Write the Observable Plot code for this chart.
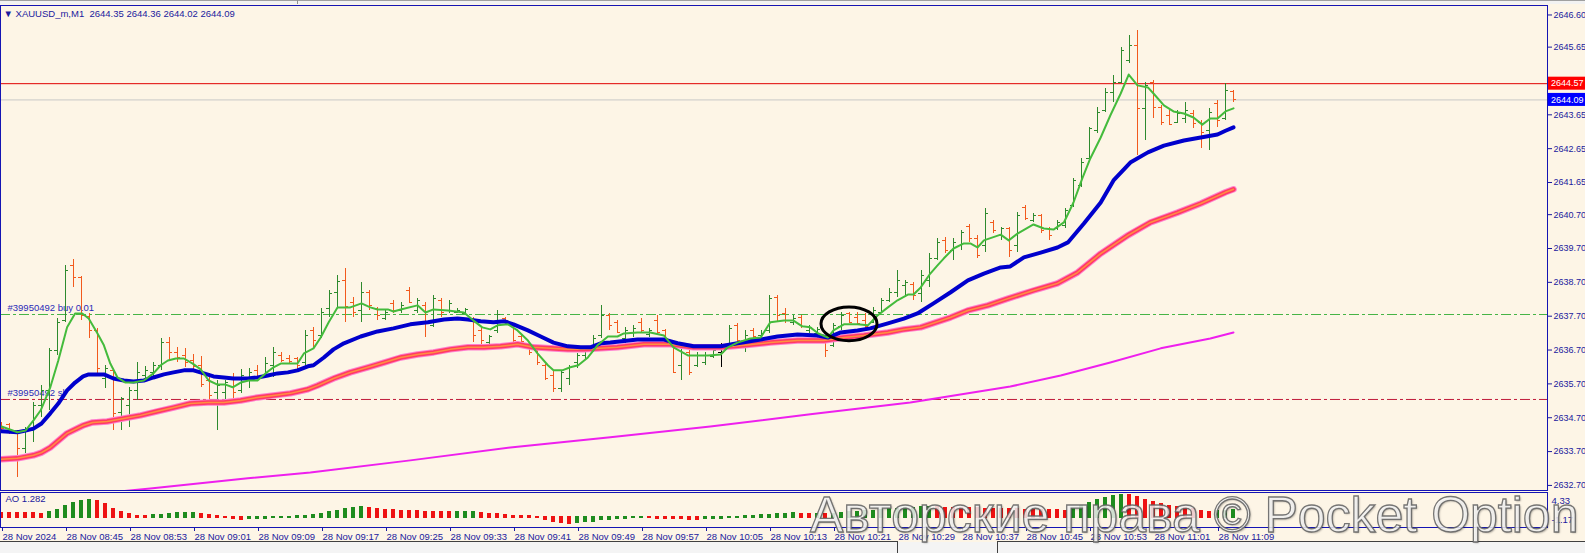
<!DOCTYPE html>
<html><head><meta charset="utf-8">
<script src="https://cdn.jsdelivr.net/npm/d3@7"></script>
<script src="https://cdn.jsdelivr.net/npm/@observablehq/plot@0.6"></script>
<style>
html,body{margin:0;padding:0;overflow:hidden;background:#fdf5e6;}
#wrap{position:relative;width:1585px;height:553px;overflow:hidden;background:#fdf5e6;font-family:"Liberation Sans",Arial,sans-serif;}
#wrap svg{position:absolute;left:0;}
.strip{position:absolute;left:0;}
#wm{position:absolute;left:810px;top:486px;font-family:"Liberation Sans",Arial,sans-serif;font-size:50px;white-space:nowrap;
color:rgba(255,255,255,0.8);-webkit-text-stroke:1.3px rgba(95,95,95,0.85);text-shadow:1px 1px 2px rgba(0,0,0,0.35);pointer-events:none;}
</style></head>
<body><div id="wrap">
<div class="strip" style="top:0;width:1585px;height:1px;background:#a0a0a0"></div>
<div class="strip" style="top:1px;width:1585px;height:3px;background:#f2f2f2"></div>
<div class="strip" style="top:0;left:297px;width:1px;height:4px;background:#909090"></div>
<div class="strip" style="top:542px;width:1585px;height:11px;background:#f4f4f4"></div>
<div class="strip" style="top:541px;width:897px;height:1px;background:#404040"></div>
<div class="strip" style="top:541px;left:897px;width:1px;height:12px;background:#404040"></div>
<div class="strip" style="top:541px;left:997px;width:1px;height:12px;background:#404040"></div>
<div class="strip" style="top:541px;left:997px;width:588px;height:1px;background:#404040"></div>
<div id="wm">Авторские права © Pocket Option</div>
</div>
<script>
// ---------- DATA ----------
const symbolTitle = "\u25BC XAUUSD_m,M1\u00a0\u00a02644.35 2644.36 2644.02 2644.09";
const opens = [2634.47,2634.50,2634.30,2633.80,2634.33,2635.06,2635.51,2636.69,2637.58,2639.20,
2638.85,2637.70,2637.28,2635.87,2636.10,2634.86,2635.06,2635.51,2635.95,2636.04,
2636.25,2636.93,2636.63,2636.54,2636.40,2636.25,2635.81,2635.45,2635.45,2635.87,
2635.51,2635.81,2636.10,2635.95,2636.25,2636.54,2636.45,2636.45,2636.34,2637.28,
2637.14,2637.93,2638.40,2638.76,2638.11,2637.87,2638.40,2637.93,2637.64,2638.08,
2637.87,2638.46,2637.87,2638.02,2637.43,2638.17,2637.87,2637.81,2637.78,2637.64,
2637.28,2636.93,2637.28,2637.64,2637.43,2637.11,2636.90,2636.69,2636.25,2635.95,
2635.57,2635.87,2636.34,2636.54,2636.78,2637.14,2637.72,2637.52,2637.05,2637.22,
2637.52,2637.17,2637.58,2637.28,2636.84,2636.25,2636.63,2636.25,2636.34,2636.51,
2636.63,2636.84,2637.43,2636.84,2637.28,2637.14,2637.28,2638.26,2637.78,2637.52,
2637.67,2637.28,2637.19,2637.05,2636.84,2637.40,2637.78,2637.67,2637.58,2637.52,
2637.81,2638.17,2638.40,2638.61,2638.64,2638.37,2638.76,2639.41,2639.94,2639.65,
2639.79,2640.35,2640.00,2639.79,2640.47,2640.09,2640.29,2639.79,2640.91,2640.53,
2640.68,2640.29,2640.29,2640.38,2640.97,2641.56,2642.36,2643.19,2643.78,2644.31,
2644.61,2645.26,2645.70,2643.84,2644.61,2643.87,2643.63,2643.43,2643.54,2643.69,
2643.43,2643.19,2643.99,2643.54,2644.35];
const highs = [2634.56,2634.53,2634.33,2634.42,2635.15,2635.66,2636.75,2637.64,2639.20,2639.38,
2638.88,2637.78,2637.34,2636.25,2636.12,2635.30,2635.60,2636.34,2636.22,2636.34,
2637.05,2637.08,2636.78,2636.75,2636.57,2636.51,2636.01,2635.81,2635.81,2636.01,
2636.13,2636.16,2636.25,2636.48,2636.78,2636.63,2636.55,2636.48,2637.28,2637.37,
2637.93,2638.46,2638.91,2639.11,2638.26,2638.70,2638.46,2637.96,2637.87,2638.17,
2638.11,2638.55,2638.23,2638.11,2638.32,2638.23,2638.17,2637.93,2637.93,2637.66,
2637.34,2637.14,2637.87,2637.67,2637.49,2637.14,2636.92,2636.78,2636.27,2636.10,
2636.10,2636.25,2636.60,2636.75,2637.14,2638.02,2637.78,2637.58,2637.37,2637.43,
2637.64,2637.34,2637.72,2637.30,2636.90,2636.78,2636.69,2636.63,2636.63,2636.78,
2636.90,2637.43,2637.49,2637.28,2637.34,2637.28,2638.32,2638.32,2637.93,2637.72,
2637.72,2637.43,2637.37,2637.08,2637.49,2637.81,2637.81,2637.81,2637.78,2637.96,
2638.23,2638.52,2639.05,2638.76,2638.70,2639.05,2639.56,2639.99,2640.03,2639.99,
2640.24,2640.41,2640.09,2640.89,2640.53,2640.32,2640.31,2640.77,2640.97,2640.74,
2640.70,2640.32,2640.53,2640.89,2641.77,2642.36,2643.28,2643.87,2644.43,2644.81,
2645.64,2645.99,2646.14,2644.61,2644.67,2643.93,2643.78,2643.78,2644.02,2643.78,
2643.49,2643.84,2644.08,2644.58,2644.36];
const lows = [2634.27,2634.21,2632.94,2633.65,2633.97,2634.71,2634.92,2636.54,2637.52,2638.55,
2637.58,2637.05,2636.01,2635.57,2634.33,2634.33,2634.42,2635.21,2635.81,2635.87,
2636.10,2636.40,2636.34,2636.19,2636.10,2635.60,2635.21,2634.33,2635.21,2635.21,
2635.42,2635.57,2635.87,2635.90,2635.90,2636.34,2636.30,2636.10,2636.16,2636.78,
2637.05,2637.67,2637.93,2637.52,2637.67,2637.52,2637.87,2637.58,2637.58,2637.78,
2637.78,2638.08,2637.78,2637.08,2637.37,2637.67,2637.78,2637.78,2637.72,2636.93,
2636.84,2636.84,2637.19,2637.52,2636.93,2636.93,2636.54,2636.25,2635.81,2635.45,
2635.45,2635.66,2636.16,2636.40,2636.69,2637.05,2637.28,2637.19,2636.90,2637.08,
2637.19,2637.08,2637.19,2636.99,2636.01,2635.81,2635.95,2636.19,2636.25,2636.46,
2636.19,2636.78,2636.93,2636.63,2637.05,2637.05,2637.19,2637.52,2637.49,2637.43,
2637.34,2637.19,2637.05,2636.48,2636.78,2637.28,2637.49,2637.43,2637.34,2637.49,
2637.78,2638.11,2638.26,2638.26,2638.17,2638.11,2638.55,2639.35,2639.56,2639.35,
2639.65,2639.88,2639.41,2639.59,2640.15,2639.94,2639.44,2639.59,2640.53,2640.47,
2640.15,2639.94,2640.24,2640.29,2640.91,2641.50,2642.30,2643.10,2643.72,2644.02,
2644.58,2645.17,2642.45,2642.89,2643.54,2643.34,2643.34,2643.40,2643.40,2643.25,
2642.66,2642.60,2643.28,2643.49,2644.02];
const closes = [2634.38,2634.30,2633.80,2634.33,2635.06,2635.51,2636.69,2637.52,2639.05,2638.85,
2637.72,2637.28,2636.16,2636.16,2634.83,2635.27,2635.51,2636.04,2636.10,2636.25,
2636.93,2636.63,2636.48,2636.34,2636.22,2635.69,2635.36,2635.66,2635.75,2635.45,
2635.95,2636.04,2635.92,2636.31,2636.63,2636.40,2636.36,2636.25,2637.14,2636.99,
2637.81,2638.37,2638.73,2637.99,2637.81,2638.40,2638.02,2637.72,2637.81,2637.87,
2638.02,2638.11,2638.17,2637.52,2638.23,2637.81,2638.08,2637.87,2637.90,2637.14,
2636.99,2637.11,2637.75,2637.58,2636.99,2636.96,2636.63,2636.34,2635.87,2635.57,
2636.04,2636.19,2636.54,2636.69,2637.05,2637.72,2637.43,2637.22,2637.28,2637.34,
2637.28,2637.28,2637.22,2637.05,2636.04,2636.63,2636.04,2636.54,2636.54,2636.69,
2636.63,2637.34,2636.99,2637.14,2637.11,2637.19,2638.23,2637.72,2637.58,2637.64,
2637.40,2637.37,2637.31,2636.69,2637.43,2637.72,2637.52,2637.49,2637.40,2637.87,
2638.17,2638.40,2638.76,2638.70,2638.32,2638.91,2639.41,2639.88,2639.65,2639.88,
2640.18,2640.00,2639.50,2640.74,2640.24,2640.29,2639.65,2640.68,2640.59,2640.68,
2640.24,2640.09,2640.47,2640.83,2641.71,2642.24,2643.25,2643.72,2644.31,2644.61,
2645.55,2645.70,2643.84,2644.52,2643.87,2643.43,2643.37,2643.69,2643.78,2643.40,
2643.13,2643.72,2643.49,2644.37,2644.09];

// moving averages as [bar index, price]
const fastMA = [[0,2634.44],[2,2634.27],[3,2634.32],[4,2634.62],[4.9,2634.92],[6.1,2635.60],[7.1,2636.39],[8.2,2637.37],[9.2,2637.78],[10.1,2637.78],[10.9,2637.63],[12,2637.19],[12.8,2636.84],[13.6,2636.30],[14.5,2635.89],[15.5,2635.74],[16.5,2635.74],[17.8,2635.80],[19,2636.01],[19.9,2636.25],[20.8,2636.39],[21.8,2636.45],[22.8,2636.45],[23.9,2636.30],[24.9,2636.13],[25.9,2635.80],[27,2635.68],[28,2635.68],[28.9,2635.60],[29.9,2635.74],[30.9,2635.80],[32,2635.80],[33,2636.01],[34,2636.19],[34.9,2636.30],[37,2636.30],[37.8,2636.60],[39,2636.75],[39.9,2637.07],[40.9,2637.52],[42,2637.96],[43.6,2637.96],[45,2638.08],[46.1,2637.96],[47,2637.90],[48.3,2637.90],[49,2637.84],[49.9,2637.90],[52,2638.02],[53,2637.81],[54,2637.90],[55.8,2637.87],[57.8,2637.81],[59,2637.57],[60.1,2637.37],[61.1,2637.31],[62,2637.43],[63.3,2637.46],[64.5,2637.28],[65.8,2636.98],[67,2636.60],[68.3,2636.25],[69,2636.10],[70.1,2636.10],[71.1,2636.19],[72.1,2636.25],[73.3,2636.48],[74.5,2636.84],[75.8,2637.10],[77,2637.10],[77.8,2637.19],[79.5,2637.22],[81.1,2637.22],[82.8,2637.13],[84,2636.78],[85.8,2636.54],[88.3,2636.54],[89.9,2636.57],[90.8,2636.78],[92,2636.92],[93.6,2637.04],[94.9,2637.07],[96.1,2637.52],[97.8,2637.57],[99,2637.57],[100.1,2637.40],[101.1,2637.37],[102.1,2637.19],[103.3,2637.07],[104,2637.28],[105.3,2637.46],[107,2637.46],[108.3,2637.43],[109.5,2637.72],[110.8,2637.96],[112,2638.17],[113.3,2638.34],[114,2638.34],[114.9,2638.55],[116.1,2638.96],[117,2639.20],[117.8,2639.41],[119,2639.70],[120.3,2639.85],[121.1,2639.85],[122,2639.73],[122.8,2639.94],[124.9,2640.11],[125.9,2639.94],[127,2640.14],[129,2640.41],[130.3,2640.29],[131.5,2640.26],[132.8,2640.47],[134,2641.06],[135.1,2641.77],[136.1,2642.36],[137.4,2642.98],[138.6,2643.63],[139.9,2644.28],[140.9,2644.84],[142,2644.52],[143.3,2644.46],[144,2644.28],[145.3,2643.93],[146.5,2643.75],[147.8,2643.69],[149,2643.57],[150.1,2643.36],[151.1,2643.54],[152,2643.54],[153,2643.75],[154,2643.84]];
const blueMA = [[0,2634.30],[2,2634.27],[3,2634.32],[4,2634.38],[5,2634.53],[6.1,2634.83],[7.1,2635.12],[8.2,2635.51],[9.2,2635.74],[10.2,2635.92],[10.9,2635.98],[12.8,2635.98],[14,2635.86],[15.3,2635.80],[16.5,2635.77],[17.8,2635.80],[19,2635.89],[20.3,2635.98],[21.5,2636.04],[22.8,2636.10],[24,2636.10],[25.3,2636.01],[26.5,2635.92],[27.8,2635.89],[29,2635.86],[30.8,2635.86],[32,2635.89],[33.3,2635.95],[34.5,2636.01],[35.8,2636.04],[37,2636.10],[38.3,2636.22],[39,2636.25],[40.3,2636.48],[41.5,2636.72],[42.8,2636.90],[44.9,2637.10],[47,2637.25],[49,2637.34],[51.1,2637.46],[53.3,2637.52],[55.3,2637.60],[57,2637.63],[58.3,2637.60],[59.9,2637.55],[61.5,2637.52],[62.8,2637.55],[64,2637.46],[65.8,2637.28],[67.4,2637.10],[69,2636.92],[70.8,2636.81],[72.4,2636.78],[73.6,2636.78],[74.9,2636.90],[76.1,2636.92],[79.5,2637.01],[82.8,2637.01],[84.5,2636.90],[86.5,2636.81],[89.9,2636.81],[92,2636.90],[94.9,2637.01],[97,2637.10],[99.5,2637.16],[102,2637.13],[103.3,2637.07],[104.9,2637.22],[107,2637.28],[108.6,2637.34],[110.8,2637.49],[112.8,2637.63],[114.5,2637.78],[116.5,2638.08],[118.6,2638.40],[120.8,2638.76],[122.8,2638.96],[124.9,2639.14],[126.1,2639.17],[127.8,2639.44],[129.9,2639.58],[132,2639.73],[133.3,2639.88],[135.3,2640.44],[137.4,2641.06],[139,2641.71],[141.1,2642.24],[143.3,2642.54],[145.3,2642.74],[147.8,2642.89],[149.9,2642.98],[152,2643.07],[153,2643.18],[154,2643.28]];
const redMA = [[0,2633.47],[2,2633.50],[4,2633.59],[5,2633.67],[6.1,2633.82],[8.2,2634.24],[10.2,2634.47],[11.4,2634.56],[13.2,2634.59],[15.3,2634.68],[17.4,2634.77],[19.5,2634.89],[21.5,2635.00],[23.6,2635.12],[25.8,2635.15],[27.8,2635.15],[29.9,2635.21],[32,2635.30],[34,2635.36],[36.1,2635.42],[38.3,2635.54],[39.5,2635.65],[41.5,2635.86],[43.6,2636.04],[45.8,2636.19],[47.8,2636.33],[49.9,2636.48],[52,2636.57],[54,2636.63],[56.1,2636.72],[58.3,2636.78],[60.3,2636.78],[62.4,2636.81],[64.5,2636.87],[66.5,2636.78],[68.6,2636.75],[70.8,2636.72],[72.8,2636.72],[74.9,2636.75],[77,2636.78],[80.3,2636.87],[83.6,2636.87],[86.5,2636.78],[89.9,2636.78],[92.8,2636.84],[96.1,2636.92],[99.5,2636.98],[102.8,2636.98],[105.3,2637.07],[107.8,2637.13],[110.8,2637.22],[112.8,2637.31],[114.9,2637.37],[118.6,2637.66],[120.8,2637.87],[123.3,2638.02],[125.8,2638.22],[129,2638.46],[132,2638.67],[134.5,2638.99],[137.4,2639.55],[140.8,2640.09],[143.6,2640.47],[147,2640.76],[149.9,2641.03],[153,2641.36],[154,2641.45]];
const slowMA = [[7.4,2632.35],[18.6,2632.61],[30.8,2632.91],[38.6,2633.08],[51.1,2633.44],[63.6,2633.82],[76.1,2634.12],[88.6,2634.44],[101.1,2634.80],[113.6,2635.15],[126.1,2635.62],[132.4,2635.95],[138.6,2636.33],[144.9,2636.75],[151.1,2637.04],[154,2637.22]];

// Awesome Oscillator, one value per bar
const aoValues = [0.75,0.72,0.70,0.68,0.66,0.64,0.87,1.33,2.13,2.80,
3.13,3.33,3.13,2.53,1.47,0.87,0.47,0.20,0.15,0.27,
0.40,0.60,0.67,0.73,0.76,0.60,0.40,0.13,-0.13,-0.27,
-0.40,-0.33,-0.27,-0.20,-0.13,-0.07,0.00,0.07,0.15,0.30,
0.50,0.87,1.20,1.53,1.73,1.93,1.67,1.47,1.33,1.30,
1.20,1.13,1.07,1.00,0.93,0.87,0.85,0.88,0.90,0.93,
0.78,0.62,0.45,0.33,0.22,0.12,0.05,-0.05,-0.55,-0.85,
-1.00,-1.17,-1.10,-0.95,-0.80,-0.55,-0.40,-0.30,-0.22,-0.15,
-0.10,-0.14,-0.18,-0.22,-0.28,-0.33,-0.37,-0.40,-0.35,-0.28,
-0.20,-0.10,0.00,0.10,0.20,0.30,0.42,0.52,0.60,0.66,
0.62,0.58,0.60,0.55,0.62,0.75,0.90,1.00,1.10,1.20,
1.35,1.50,1.62,1.72,1.80,1.85,1.90,1.86,1.82,1.78,
1.74,1.70,1.66,1.62,1.58,1.54,1.50,1.46,1.42,1.38,
1.34,1.30,1.26,1.22,1.55,2.10,2.75,3.30,3.80,4.13,
4.33,4.25,4.00,3.33,3.00,2.53,2.13,1.87,1.67,1.47,
1.20,1.00,1.10,1.20,1.282];
const aoLabel = "AO 1.282";
const aoScaleLabels = [4.33, -1.17];

// x axis: bar index of each labelled tick and its text
const tickBars = [0,8,16,24,32,40,48,56,64,72,80,88,96,104,112,120,128,136,144,152];
const tickLabels = ["28 Nov 2024","28 Nov 08:45","28 Nov 08:53","28 Nov 09:01","28 Nov 09:09","28 Nov 09:17","28 Nov 09:25","28 Nov 09:33","28 Nov 09:41","28 Nov 09:49","28 Nov 09:57","28 Nov 10:05","28 Nov 10:13","28 Nov 10:21","28 Nov 10:29","28 Nov 10:37","28 Nov 10:45","28 Nov 10:53","28 Nov 11:01","28 Nov 11:09"];
const priceTicks = [2646.60,2645.65,2644.65,2643.65,2642.65,2641.65,2640.70,2639.70,2638.70,2637.70,2636.70,2635.70,2634.70,2633.70,2632.70];

// horizontal levels
const askPrice = 2644.57;
const bidPrice = 2644.09;
const buyPrice = 2637.75;
const slPrice = 2635.24;
const orderLabels = [{t:0.75, p:buyPrice, s:"#39950492 buy 0.01"},{t:0.75, p:slPrice, s:"#39950492 sl"}];
const priceTags = [{p:askPrice, bg:"#ff0000"},{p:bidPrice, bg:"#0000ff"}];
const circleNote = {t:106, p:2637.46, halfBars:3.5, halfPrice:0.50};

// ---------- DRAW ----------
const navy = "#1a1a9e";
const frameColor = "#1414b4";
const xDomain = [-0.125, 193.25];
const bars = opens.map((o,i)=>({t:i, o, h:highs[i], l:lows[i], c:closes[i]}));
const barColor = d => d.c > d.o ? "#2e8a2e" : d.c < d.o ? "#f25a1d" : "#000000";
const px = d => d[0], py = d => d[1];

function tagMark(index, scales, values, dims) {
  const g = d3.create("svg:g");
  const x0 = dims.width - dims.marginRight + 1;
  for (const b of priceTags) {
    const y = scales.y(b.p);
    g.append("rect").attr("x", x0).attr("y", y - 6.5).attr("width", dims.marginRight).attr("height", 13).attr("fill", b.bg);
    g.append("text").attr("x", x0 + 3).attr("y", y).attr("dy", "0.36em").attr("text-anchor", "start")
      .attr("font-size", "9px").attr("fill", "#ffffff").text(b.p.toFixed(2));
  }
  return g.node();
}
function ellipseMark(index, scales) {
  const cx = scales.x(circleNote.t), cy = scales.y(circleNote.p);
  const rx = Math.abs(scales.x(circleNote.t + circleNote.halfBars) - cx);
  const ry = Math.abs(scales.y(circleNote.p + circleNote.halfPrice) - cy);
  const g = d3.create("svg:g");
  g.append("ellipse").attr("cx", cx).attr("cy", cy).attr("rx", rx).attr("ry", ry)
    .attr("fill", "none").attr("stroke", "#000").attr("stroke-width", 3);
  return g.node();
}

const mainPlot = Plot.plot({
  width: 1585, height: 491,
  marginTop: 5, marginBottom: 1, marginLeft: 0, marginRight: 38,
  x: {domain: xDomain, axis: null},
  y: {domain: [2632.55, 2646.88], axis: null},
  style: {background: "transparent", fontFamily: "Liberation Sans, Arial, sans-serif", fontSize: "9.5px", color: navy, overflow: "visible"},
  marks: [
    Plot.ruleY([bidPrice], {stroke: "#c8c8c8"}),
    Plot.ruleY([askPrice], {stroke: "#e00000"}),
    Plot.ruleY([buyPrice], {stroke: "#46b446", strokeDasharray: "10,3,3,3"}),
    Plot.ruleY([slPrice], {stroke: "#c01a3a", strokeDasharray: "10,3,3,3"}),
    Plot.text(orderLabels, {x: "t", y: "p", text: "s", textAnchor: "start", dy: -7, fill: "#2a2ab8"}),
    Plot.ruleX(bars, {x: "t", y1: "l", y2: "h", stroke: barColor, shapeRendering: "crispEdges"}),
    Plot.ruleY(bars, {y: "o", x1: d => d.t - 0.375, x2: "t", stroke: barColor, shapeRendering: "crispEdges"}),
    Plot.ruleY(bars, {y: "c", x1: "t", x2: d => d.t + 0.375, stroke: barColor, shapeRendering: "crispEdges"}),
    Plot.line(slowMA, {x: px, y: py, stroke: "#ee1fee", strokeWidth: 2, clip: true}),
    Plot.line(redMA, {x: px, y: py, stroke: "#ff7fcf", strokeWidth: 6.5}),
    Plot.line(redMA, {x: px, y: py, stroke: "#ff3b64", strokeWidth: 4.5}),
    Plot.line(redMA, {x: px, y: py, stroke: "#ff9040", strokeWidth: 1.5}),
    Plot.line(blueMA, {x: px, y: py, stroke: "#0000cc", strokeWidth: 4}),
    Plot.line(fastMA, {x: px, y: py, stroke: "#44bb3c", strokeWidth: 2}),
    ellipseMark,
    Plot.text([symbolTitle], {frameAnchor: "top-left", dx: 3, dy: 5, lineAnchor: "top", textAnchor: "start", fill: navy}),
    Plot.axisY(priceTicks, {anchor: "right", label: null, tickSize: 4, tickPadding: 2, fontSize: 9, tickFormat: d => d.toFixed(2)}),
    tagMark,
    Plot.frame({stroke: frameColor})
  ]
});
mainPlot.style.top = "0px";

const ao = aoValues.map((v,i)=>({t:i, v, up: i > 0 && v > aoValues[i-1]}));
const aoPlot = Plot.plot({
  width: 1585, height: 62,
  marginTop: 1, marginBottom: 26, marginLeft: 0, marginRight: 38,
  x: {domain: xDomain, axis: null},
  y: {domain: [-2.06, 4.94], axis: null},
  style: {background: "transparent", fontFamily: "Liberation Sans, Arial, sans-serif", fontSize: "9.5px", color: navy, overflow: "visible"},
  marks: [
    Plot.rectY(ao, {x1: d => d.t - 0.19, x2: d => d.t + 0.19, y1: 0, y2: "v", insetTop: -1, insetBottom: -1,
      fill: d => d.up ? "#1e8c1e" : "#ee1212", shapeRendering: "crispEdges"}),
    Plot.text([aoLabel], {frameAnchor: "top-left", dx: 5, dy: 3, lineAnchor: "top", textAnchor: "start", fill: navy}),
    Plot.axisY([aoScaleLabels[0]], {anchor: "right", label: null, tickSize: 0, tickPadding: 4, dy: 5, tickFormat: d => d.toFixed(2)}),
    Plot.axisY([aoScaleLabels[1]], {anchor: "right", label: null, tickSize: 0, tickPadding: 4, dy: -3, tickFormat: d => d.toFixed(2)}),
    Plot.axisX(tickBars, {anchor: "bottom", label: null, tickSize: 4, tickPadding: 2, textAnchor: "start", dx: 1,
      tickFormat: d => tickLabels[tickBars.indexOf(d)]}),
    Plot.frame({stroke: frameColor})
  ]
});
aoPlot.style.top = "491px";

const wrap = document.getElementById("wrap");
wrap.insertBefore(aoPlot, document.getElementById("wm"));
wrap.insertBefore(mainPlot, aoPlot);
</script>
</body></html>
